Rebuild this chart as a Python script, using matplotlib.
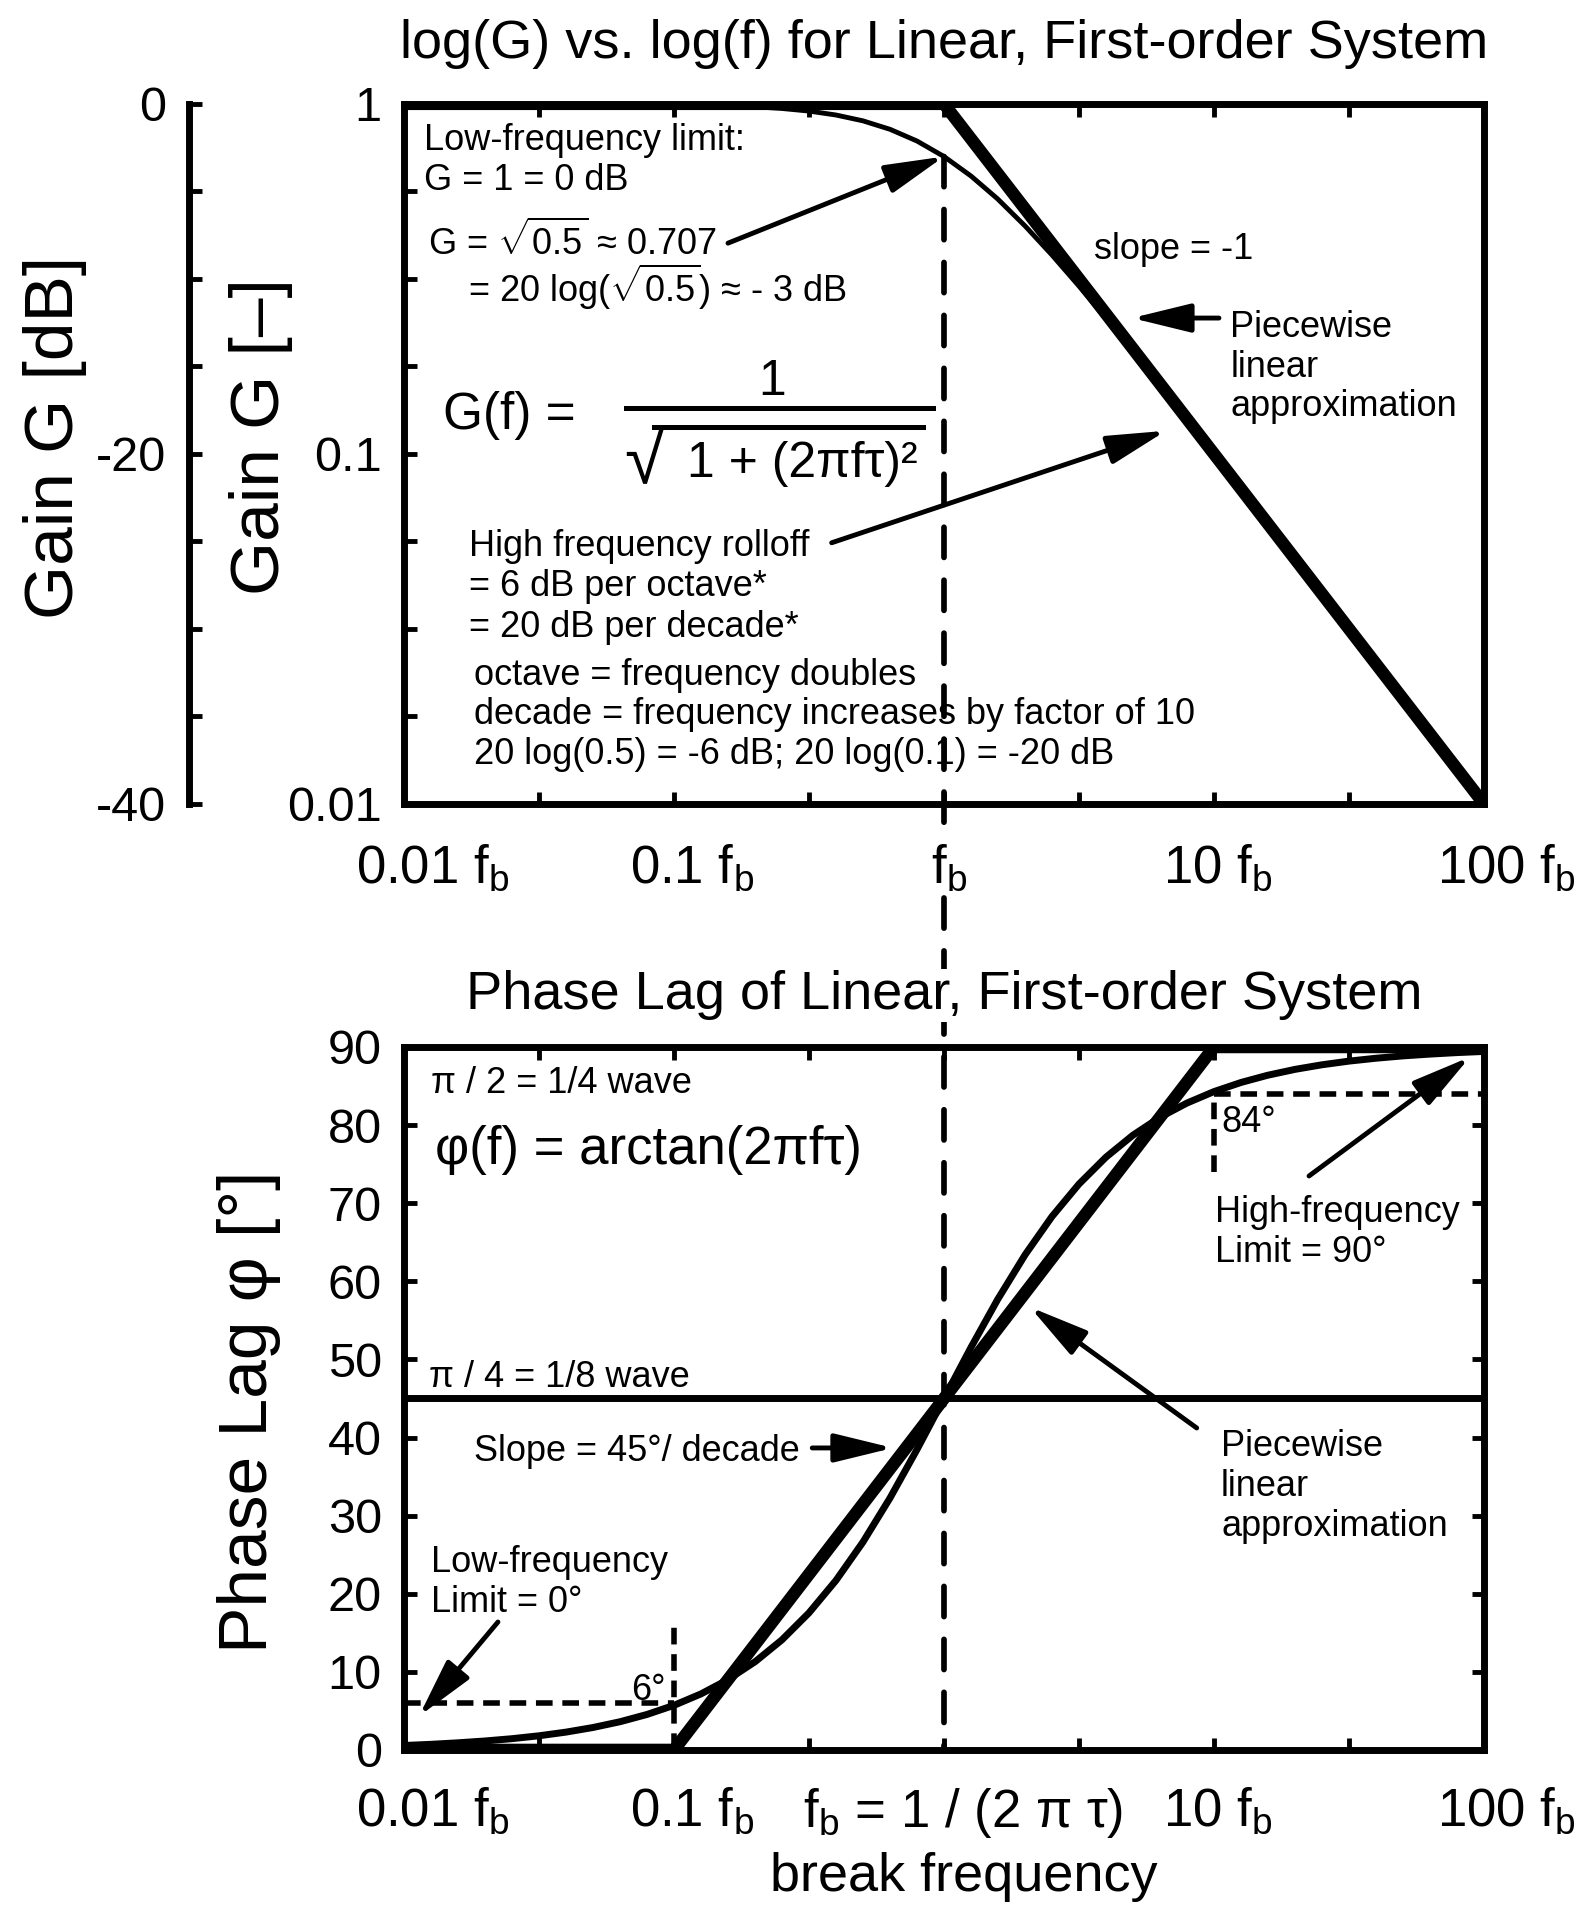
import matplotlib
matplotlib.use("Agg")
import matplotlib.pyplot as plt
import matplotlib.transforms as mtransforms
from matplotlib.lines import Line2D
from matplotlib.patches import ConnectionPatch
from matplotlib.ticker import NullLocator

plt.rcParams["font.family"] = ["Liberation Sans", "DejaVu Sans"]
plt.rcParams["mathtext.fontset"] = "custom"
plt.rcParams["mathtext.rm"] = "Liberation Sans"
plt.rcParams["mathtext.it"] = "Liberation Sans:italic"
plt.rcParams["axes.unicode_minus"] = False

# ---- data (frequency in units of the break frequency fb) ----
freq = [0.01, 0.0126, 0.0158, 0.02, 0.0251, 0.0316, 0.0398, 0.0501, 0.0631,
        0.0794, 0.1, 0.126, 0.158, 0.2, 0.251, 0.316, 0.398, 0.501, 0.631,
        0.794, 1.0, 1.26, 1.58, 2.0, 2.51, 3.16, 3.98, 5.01, 6.31, 7.94, 10,
        12.6, 15.8, 20, 25.1, 31.6, 39.8, 50.1, 63.1, 79.4, 100]
gain = [1.0, 0.9999, 0.9999, 0.9998, 0.9997, 0.9995, 0.9992, 0.9988, 0.998,
        0.9969, 0.995, 0.9922, 0.9877, 0.9806, 0.9699, 0.9535, 0.9291,
        0.8941, 0.8457, 0.7831, 0.7071, 0.6217, 0.535, 0.4472, 0.3701,
        0.3017, 0.2437, 0.1957, 0.1565, 0.125, 0.0995, 0.0791, 0.0632,
        0.0499, 0.0398, 0.0316, 0.0251, 0.02, 0.0158, 0.0126, 0.01]
phase = [0.57, 0.72, 0.91, 1.15, 1.44, 1.81, 2.28, 2.87, 3.61, 4.54, 5.71,
         7.18, 8.98, 11.31, 14.09, 17.54, 21.7, 26.61, 32.25, 38.45, 45.0,
         51.56, 57.67, 63.43, 68.28, 72.44, 75.89, 78.71, 81.0, 82.82, 84.29,
         85.46, 86.38, 87.14, 87.72, 88.19, 88.56, 88.86, 89.09, 89.28, 89.43]

gain_asym_f = [0.01, 1, 100]
gain_asym = [1, 1, 0.01]
phase_asym_f = [0.01, 0.1, 10, 100]
phase_asym = [0, 0, 90, 90]

break_gain = (1.0, 0.707)
low_ref = (0.1, 6.0)      # 6 deg at 0.1 fb
high_ref = (10.0, 84.0)   # 84 deg at 10 fb
eighth_wave = 45

freq_ticks = [0.01, 0.1, 1, 10, 100]
top_freq_labels = [r"0.01 f$\mathregular{_b}$", r"0.1 f$\mathregular{_b}$",
                   r"f$\mathregular{_b}$", r"10 f$\mathregular{_b}$",
                   r"100 f$\mathregular{_b}$"]
bot_freq_labels = [r"0.01 f$\mathregular{_b}$", r"0.1 f$\mathregular{_b}$",
                   r"f$\mathregular{_b}$ = 1 / (2 π τ)", r"10 f$\mathregular{_b}$",
                   r"100 f$\mathregular{_b}$"]
gain_ticks = [0.01, 0.1, 1]
gain_labels = ["0.01", "0.1", "1"]
db_ticks = [-40, -20, 0]
db_labels = ["-40", "-20", "0"]
phase_ticks = [0, 10, 20, 30, 40, 50, 60, 70, 80, 90]

XTICK_FS = 38
YTICK_FS = 35
TXT_FS = 26

fig = plt.figure(figsize=(15.88, 19.05), dpi=100)
ax1 = fig.add_axes([0.2544, 0.5780, 0.6801, 0.3675])
ax2 = fig.add_axes([0.2544, 0.0814, 0.6801, 0.3690])


def log_steps(step, lo, hi):
    pos = []
    e = lo
    while e <= hi + 1e-9:
        pos.append(10 ** e)
        e += step
    return pos


def sparse_labels(positions, ticks, labels):
    out = []
    for p in positions:
        lab = ""
        for t, l in zip(ticks, labels):
            if abs(p - t) <= 1e-6 * max(abs(t), 1e-9):
                lab = l
        out.append(lab)
    return out


half_dec = log_steps(0.5, -2, 2)
quarter_dec = log_steps(0.25, -2, 0)
label_shift = {0.01: 29, 0.1: 18, 1: 5, 10: 4, 100: 22}  # pixels to the right

for ax in (ax1, ax2):
    ax.set_xscale("log")
    ax.set_xlim(0.01, 100)
    ax.patch.set_visible(False)
    for s in ax.spines.values():
        s.set_linewidth(5)
    ax.set_xticks(half_dec)
    ax.xaxis.set_minor_locator(NullLocator())
    ax.tick_params(direction="in", length=9, width=3.5, top=True, right=True)
    ax.tick_params(axis="x", labelsize=XTICK_FS)
    ax.tick_params(axis="y", labelsize=YTICK_FS, pad=16)

ax1.tick_params(axis="x", pad=28)
ax2.tick_params(axis="x", pad=26)

# ---------------- top: gain ----------------
ax1.set_yscale("log")
ax1.set_ylim(0.01, 1)
ax1.set_yticks(quarter_dec)
ax1.yaxis.set_minor_locator(NullLocator())
ax1.set_yticklabels(sparse_labels(quarter_dec, gain_ticks, gain_labels))
ax1.set_xticklabels(sparse_labels(half_dec, freq_ticks, top_freq_labels))
ax1.tick_params(right=False)

ax1.plot(gain_asym_f, gain_asym, color="k", lw=9, solid_capstyle="butt")
ax1.plot(freq, gain, color="k", lw=3.5)

ax1.set_title("log(G) vs. log(f) for Linear, First-order System",
              fontsize=39, pad=33)

# dB axis
db_pos = [-40, -35, -30, -25, -20, -15, -10, -5, 0]
axdb = ax1.twinx()
axdb.set_ylim(-40, 0)
for k in ("top", "right", "bottom"):
    axdb.spines[k].set_visible(False)
axdb.spines["left"].set_position(("outward", 155))
axdb.spines["left"].set_linewidth(5)
axdb.yaxis.set_ticks_position("left")
axdb.yaxis.set_label_position("left")
axdb.set_yticks(db_pos)
axdb.set_yticklabels(sparse_labels(db_pos, db_ticks, db_labels))
axdb.tick_params(direction="in", length=9, width=3.5, labelsize=YTICK_FS, pad=16)

fig.text(55 / 1588, 1 - 437 / 1905, "Gain G [dB]", rotation=90, fontsize=50,
         ha="center", va="center")
fig.text(261 / 1588, 1 - 437 / 1905, "Gain G [–]", rotation=90, fontsize=50,
         ha="center", va="center")

tA = ax1.transAxes
ax1.text(0.0185, 0.972, "Low-frequency limit:\nG = 1 = 0 dB", transform=tA,
         fontsize=TXT_FS, va="top", ha="left", linespacing=1.18)
ax1.text(0.022, 0.784, r"G = $\mathregular{\sqrt{0.5}}$ ≈ 0.707", transform=tA,
         fontsize=TXT_FS, va="baseline", ha="left")
ax1.text(0.059, 0.717, r"= 20 log($\mathregular{\sqrt{0.5}}$) ≈ - 3 dB",
         transform=tA, fontsize=TXT_FS, va="baseline", ha="left")
ax1.text(0.036, 0.536, "G(f) =", transform=tA, fontsize=37, va="baseline")
ax1.text(0.341, 0.584, "1", transform=tA, fontsize=36, va="baseline", ha="center")
ax1.add_line(Line2D([0.2056, 0.4898], [0.566, 0.566], transform=tA, color="k",
                    lw=3.6))
ax1.text(0.2035, 0.458, "√", transform=tA, fontsize=52, va="baseline")
ax1.add_line(Line2D([0.2315, 0.4806], [0.539, 0.539], transform=tA, color="k",
                    lw=3.6))
ax1.text(0.262, 0.467, "1 + (2πfτ)²", transform=tA, fontsize=36, va="baseline")
ax1.text(0.639, 0.779, "slope = -1", transform=tA, fontsize=TXT_FS, va="baseline")
ax1.text(0.765, 0.706, "Piecewise\nlinear\napproximation", transform=tA,
         fontsize=TXT_FS, va="top", linespacing=1.18)
ax1.text(0.060, 0.393, "High frequency rolloff\n= 6 dB per octave*\n= 20 dB per decade*",
         transform=tA, fontsize=TXT_FS, va="top", linespacing=1.2)
ax1.text(0.065, 0.209, "octave = frequency doubles\n"
         "decade = frequency increases by factor of 10\n"
         "20 log(0.5) = -6 dB; 20 log(0.1) = -20 dB",
         transform=tA, fontsize=TXT_FS, va="top", linespacing=1.18)

arrow = dict(arrowstyle="-|>,head_length=0.9,head_width=0.22", lw=3.5,
             color="k", shrinkA=0, shrinkB=0, mutation_scale=40)
ax1.annotate("", xy=break_gain, xycoords="data", xytext=(0.300, 0.801),
             textcoords="axes fraction", arrowprops=arrow)
ax1.annotate("", xy=(0.674, 0.694), xycoords="axes fraction",
             xytext=(0.7546, 0.694), textcoords="axes fraction", arrowprops=arrow)
ax1.annotate("", xy=(0.7056, 0.533), xycoords="axes fraction",
             xytext=(0.396, 0.373), textcoords="axes fraction", arrowprops=arrow)

# ---------------- bottom: phase ----------------
ax2.set_ylim(0, 90)
ax2.set_yticks(phase_ticks)
ax2.set_xticklabels(sparse_labels(half_dec, freq_ticks, bot_freq_labels))

ax2.axhline(eighth_wave, color="k", lw=5)
ax2.plot(phase_asym_f, phase_asym, color="k", lw=9, solid_capstyle="butt")
ax2.plot(freq, phase, color="k", lw=5)

dash_small = dict(color="k", lw=4, linestyle=(0, (3, 1.75)))
ax2.plot([freq_ticks[0], low_ref[0]], [low_ref[1], low_ref[1]], **dash_small)
ax2.plot([low_ref[0], low_ref[0]], [0, low_ref[1] + 10], **dash_small)
ax2.plot([high_ref[0], freq_ticks[-1]], [high_ref[1], high_ref[1]], **dash_small)
ax2.plot([high_ref[0], high_ref[0]], [high_ref[1] - 10, high_ref[1]], **dash_small)

ax2.set_title("Phase Lag of Linear, First-order System", fontsize=39, pad=27,
              bbox=dict(facecolor="white", edgecolor="none", pad=1))
fig.text(249 / 1588, 1 - 1412 / 1905, "Phase Lag φ [°]", rotation=90,
         fontsize=50, ha="center", va="center")
ax2.text(0.518, -0.181, "break frequency", transform=ax2.transAxes,
         fontsize=39, ha="center", va="center")

tB = ax2.transAxes
ax2.text(0.025, 0.934, "π / 2 = 1/4 wave", transform=tB, fontsize=TXT_FS,
         va="baseline")
ax2.text(0.0287, 0.8336, "φ(f) = arctan(2πfτ)", transform=tB, fontsize=38,
         va="baseline")
ax2.text(0.023, 0.516, "π / 4 = 1/8 wave", transform=tB, fontsize=TXT_FS,
         va="baseline")
ax2.text(0.065, 0.4105, "Slope = 45°/ decade", transform=tB, fontsize=TXT_FS,
         va="baseline")
ax2.text(0.025, 0.292, "Low-frequency\nLimit = 0°", transform=tB,
         fontsize=TXT_FS, va="top", linespacing=1.2)
ax2.text(0.751, 0.790, "High-frequency\nLimit = 90°", transform=tB,
         fontsize=TXT_FS, va="top", linespacing=1.2)
ax2.text(0.7565, 0.457, "Piecewise\nlinear\napproximation", transform=tB,
         fontsize=TXT_FS, va="top", linespacing=1.2)
ax2.text(0.2426, 0.071, "6°", transform=tB, fontsize=TXT_FS, va="baseline",
         ha="right")
ax2.text(0.7565, 0.879, "84°", transform=tB, fontsize=TXT_FS, va="baseline")

ax2.annotate("", xy=(0.4528, 0.4296), xycoords="axes fraction",
             xytext=(0.378, 0.4296), textcoords="axes fraction", arrowprops=arrow)
ax2.annotate("", xy=(0.0139, 0.048), xycoords="axes fraction",
             xytext=(0.087, 0.182), textcoords="axes fraction", arrowprops=arrow)
ax2.annotate("", xy=(0.987, 0.9858), xycoords="axes fraction",
             xytext=(0.838, 0.8165), textcoords="axes fraction", arrowprops=arrow)
ax2.annotate("", xy=(0.5796, 0.630), xycoords="axes fraction",
             xytext=(0.734, 0.458), textcoords="axes fraction", arrowprops=arrow)

# shift x tick labels sideways to sit where the original puts them
for ax in (ax1, ax2):
    for pos, lab in zip(half_dec, ax.get_xticklabels()):
        for t, dx in label_shift.items():
            if abs(pos / t - 1) < 1e-6:
                dx_px = dx + (14 if (ax is ax2 and t == 1) else 0)
                off = mtransforms.ScaledTranslation(dx_px / 100, 0,
                                                    fig.dpi_scale_trans)
                lab.set_transform(lab.get_transform() + off)
                if ax is ax1 and t == 1:
                    lab.set_bbox(dict(facecolor="white", edgecolor="none", pad=1))

# dashed break-frequency line running through both panels (behind the text)
con = ConnectionPatch(xyA=break_gain, coordsA=ax1.transData,
                      xyB=(break_gain[0], 0), coordsB=ax2.transData,
                      color="k", lw=4.1, linestyle=(0, (5.3, 4)), zorder=-1)
fig.add_artist(con)

fig.savefig("out.png", dpi=100)
